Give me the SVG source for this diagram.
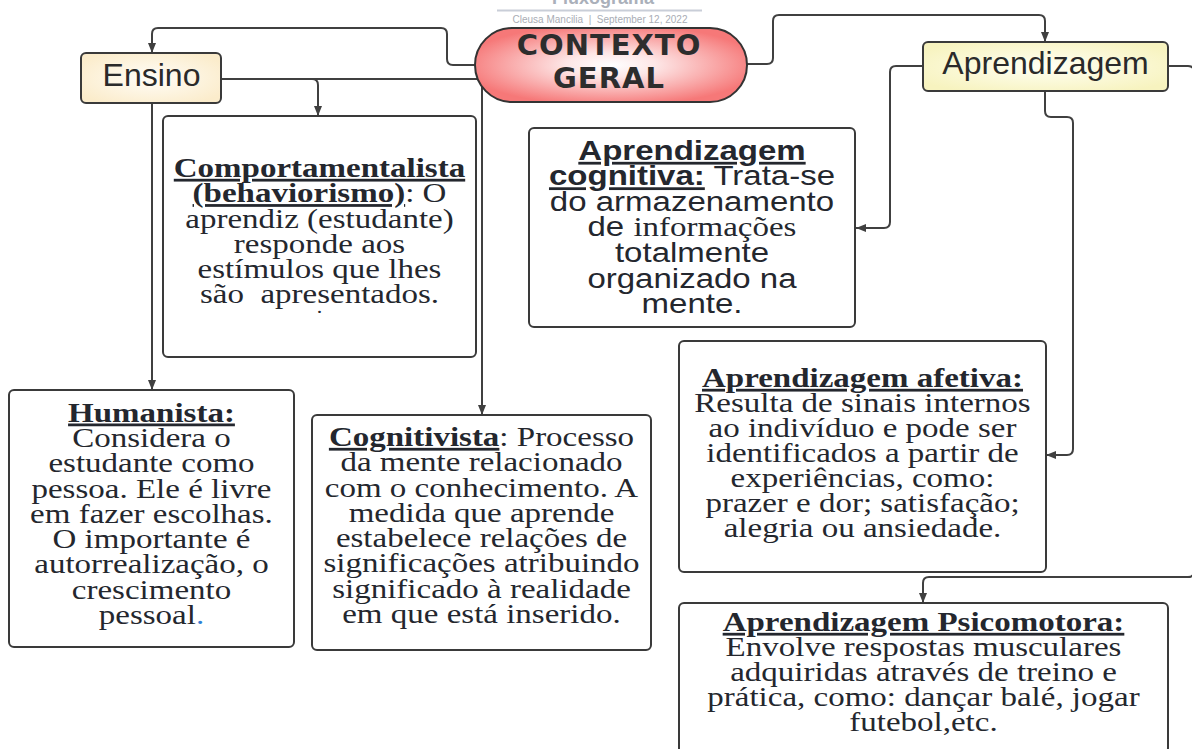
<svg xmlns="http://www.w3.org/2000/svg" width="1192" height="749" viewBox="0 0 1192 749">
<style>
.box{fill:#ffffff;stroke:#3a3a3a;stroke-width:2}
.conn{fill:none;stroke:#404040;stroke-width:2;marker-end:url(#arr)}
.line{fill:none;stroke:#404040;stroke-width:2}
.t{font-family:"Liberation Serif","Times New Roman",serif;font-size:33px;fill:#24272e;text-anchor:middle}
.s{font-family:"Liberation Sans",Arial,sans-serif;font-size:33px;fill:#24272e;text-anchor:middle}
.serif{font-family:"Liberation Serif","Times New Roman",serif}
.bu{font-weight:bold;text-decoration:underline}
.hdr{font-family:"Liberation Sans",Arial,sans-serif;font-size:32px;fill:#2a2a2a;text-anchor:middle}
.comic{font-family:"DejaVu Sans",sans-serif;font-weight:bold;font-size:29px;letter-spacing:1px;fill:#2d2d2d;text-anchor:middle}
</style>
<defs>
<marker id="arr" markerWidth="10" markerHeight="8" refX="10" refY="4" orient="auto" markerUnits="userSpaceOnUse">
<path d="M0,0 L10,4 L0,8 z" fill="#404040"/>
</marker>
<radialGradient id="gRed" cx="0.5" cy="0.5" r="0.55">
<stop offset="0" stop-color="#ffffff"/>
<stop offset="0.3" stop-color="#fde6e6"/>
<stop offset="1" stop-color="#f67878"/>
</radialGradient>
<radialGradient id="gCream" cx="0.5" cy="0.5" r="0.6">
<stop offset="0" stop-color="#fffdf8"/>
<stop offset="1" stop-color="#fbeccb"/>
</radialGradient>
<radialGradient id="gYellow" cx="0.5" cy="0.5" r="0.6">
<stop offset="0" stop-color="#fffff4"/>
<stop offset="1" stop-color="#f7f3bf"/>
</radialGradient>
</defs>
<rect x="0" y="0" width="1192" height="749" fill="#ffffff"/>

<g id="header">
<text x="603" y="4" font-family="Liberation Sans, Arial, sans-serif" font-weight="bold" font-size="18" fill="#aab0ba" text-anchor="middle">Fluxograma</text>
<line x1="497" y1="10.5" x2="702" y2="10.5" stroke="#c9ced8" stroke-width="2"/>
<text x="600" y="23" font-family="Liberation Sans, Arial, sans-serif" font-size="10" fill="#a9adb5" text-anchor="middle" xml:space="preserve">Cleusa Mancilia  |  September 12, 2022</text>
</g>

<g id="connectors">
<path class="conn" d="M 476 65 H 453 Q 447 65 447 59 V 34 Q 447 28 441 28 H 158 Q 152 28 152 34 V 53"/>
<path class="conn" d="M 222 79 H 312 Q 318 79 318 85 V 116"/>
<path class="line" d="M 312 79 H 483"/>
<path class="conn" d="M 482 79 V 415"/>
<path class="conn" d="M 152 103 V 390"/>
<path class="conn" d="M 746 64 H 767 Q 773 64 773 58 V 21 Q 773 15 779 15 H 1039 Q 1045 15 1045 21 V 42"/>
<path class="conn" d="M 923 66 H 896 Q 890 66 890 72 V 222 Q 890 228 884 228 H 856"/>
<path class="conn" d="M 1045 91 V 111 Q 1045 117 1051 117 H 1067 Q 1073 117 1073 123 V 449 Q 1073 455 1067 455 H 1046"/>
<path class="conn" d="M 1168 66 H 1188 Q 1194 66 1194 72 V 571 Q 1194 577 1188 577 H 929 Q 923 577 923 583 V 603"/>
</g>

<g id="contexto-geral">
<rect x="475" y="28" width="272" height="74" rx="37" fill="url(#gRed)" stroke="#333" stroke-width="2"/>
<text class="comic" x="609" y="55">CONTEXTO</text>
<text class="comic" x="609" y="88">GERAL</text>
</g>

<g id="ensino">
<rect x="81" y="53" width="140" height="50" rx="5" fill="url(#gCream)" stroke="#3a3a3a" stroke-width="2"/>
<text class="hdr" x="151.5" y="86">Ensino</text>
</g>

<g id="aprendizagem">
<rect x="923" y="42" width="245" height="49" rx="5" fill="url(#gYellow)" stroke="#3a3a3a" stroke-width="2"/>
<text class="hdr" x="1045.5" y="74">Aprendizagem</text>
</g>

<g id="comportamentalista">
<rect class="box" x="163" y="116" width="313" height="241" rx="5"/>
<g transform="scale(1 0.84)">
<text class="t" x="319.5" y="210.7"><tspan class="bu">Comportamentalista</tspan></text>
<text class="t" x="319.5" y="240.8"><tspan class="bu">(behaviorismo)</tspan>: O</text>
<text class="t" x="319.5" y="271">aprendiz (estudante)</text>
<text class="t" x="319.5" y="301.1">responde aos</text>
<text class="t" x="319.5" y="331.2">estímulos que lhes</text>
<text class="t" x="319.5" y="361.3" xml:space="preserve">são  apresentados.</text>
<text class="t" x="319.5" y="372.6" style="font-size:22px">.</text>
</g>
</g>

<g id="humanista">
<rect class="box" x="9" y="390" width="285" height="257" rx="5"/>
<g transform="scale(1 0.84)">
<text class="t" x="151.5" y="502"><tspan class="bu">Humanista:</tspan></text>
<text class="t" x="151.5" y="532.1">Considera o</text>
<text class="t" x="151.5" y="562.3">estudante como</text>
<text class="t" x="151.5" y="592.4">pessoa. Ele é livre</text>
<text class="t" x="151.5" y="622.5">em fazer escolhas.</text>
<text class="t" x="151.5" y="652.6">O importante é</text>
<text class="t" x="151.5" y="682.7">autorrealização, o</text>
<text class="t" x="151.5" y="712.9">crescimento</text>
<text class="t" x="151.5" y="743">pessoal<tspan fill="#2f7fd6">.</tspan></text>
</g>
</g>

<g id="cognitivista">
<rect class="box" x="312" y="415" width="339" height="235" rx="5"/>
<g transform="scale(1 0.84)">
<text class="t" x="481.5" y="531"><tspan class="bu">Cognitivista</tspan>: Processo</text>
<text class="t" x="481.5" y="561.1">da mente relacionado</text>
<text class="t" x="481.5" y="591.2">com o conhecimento. A</text>
<text class="t" x="481.5" y="621.3">medida que aprende</text>
<text class="t" x="481.5" y="651.4">estabelece relações de</text>
<text class="t" x="481.5" y="681.5">significações atribuindo</text>
<text class="t" x="481.5" y="711.7">significado à realidade</text>
<text class="t" x="481.5" y="741.8">em que está inserido.</text>
</g>
</g>

<g id="aprendizagem-cognitiva">
<rect class="box" x="529" y="128" width="326" height="199" rx="5"/>
<g transform="scale(1 0.84)">
<text class="s" x="692" y="190.5"><tspan class="bu">Aprendizagem</tspan></text>
<text class="s" x="692" y="220.8"><tspan class="bu">cognitiva:</tspan> Trata-se</text>
<text class="s" x="692" y="251.2">do armazenamento</text>
<text class="s" x="692" y="281.5">de <tspan class="serif">informações</tspan></text>
<text class="s" x="692" y="311.9">totalmente</text>
<text class="s" x="692" y="342.3">organizado na</text>
<text class="s" x="692" y="372.6">mente.</text>
</g>
</g>

<g id="aprendizagem-afetiva">
<rect class="box" x="679" y="341" width="367" height="231" rx="5"/>
<g transform="scale(1 0.84)">
<text class="t" x="862.5" y="460.7"><tspan class="bu">Aprendizagem afetiva:</tspan></text>
<text class="t" x="862.5" y="490.5">Resulta de sinais internos</text>
<text class="t" x="862.5" y="520.2">ao indivíduo e pode ser</text>
<text class="t" x="862.5" y="550">identificados a partir de</text>
<text class="t" x="862.5" y="579.8">experiências, como:</text>
<text class="t" x="862.5" y="609.5">prazer e dor; satisfação;</text>
<text class="t" x="862.5" y="639.3">alegria ou ansiedade.</text>
</g>
</g>

<g id="aprendizagem-psicomotora">
<rect class="box" x="679" y="603" width="489" height="150" rx="5"/>
<g transform="scale(1 0.84)">
<text class="t" x="923.5" y="751.2"><tspan class="bu">Aprendizagem Psicomotora:</tspan></text>
<text class="t" x="923.5" y="781">Envolve respostas musculares</text>
<text class="t" x="923.5" y="810.7">adquiridas através de treino e</text>
<text class="t" x="923.5" y="840.5">prática, como: dançar balé, jogar</text>
<text class="t" x="923.5" y="870.2">futebol,etc.</text>
</g>
</g>
</svg>
